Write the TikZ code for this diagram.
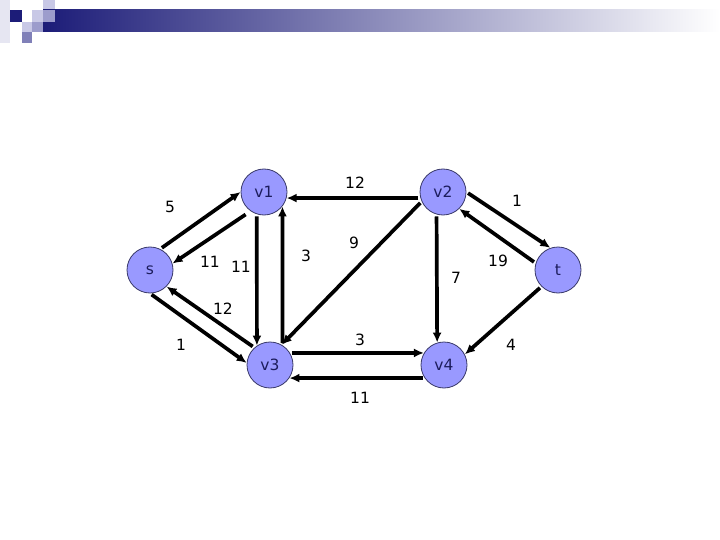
\documentclass[tikz,border=0pt]{standalone}
\usepackage{fontspec}
\setmainfont{DejaVu Sans}
\usetikzlibrary{arrows.meta}
\definecolor{vfill}{HTML}{9999FF}
\definecolor{vline}{HTML}{3A3A6A}
\definecolor{vink}{HTML}{1C1C5C}
\definecolor{barnavy}{HTML}{1C1C78}
\definecolor{hdpale}{HTML}{E6E6F2}
\definecolor{hdlight}{HTML}{C8C8E6}
\definecolor{hdmid}{HTML}{9C9CCC}
\definecolor{hddark}{HTML}{8080B8}
\tikzset{>={Latex[length=10pt,width=9pt]},
  vertex/.style={circle,fill=vfill,draw=vline,line width=.8pt,minimum size=46pt,
    inner sep=0pt,text=vink,font=\fontsize{15.5}{17}\selectfont},
  flow/.style={->,line width=3.7pt,shorten <=2pt},
  weight/.style={font=\fontsize{15.5}{17}\selectfont}}

\begin{document}
\begin{tikzpicture}[x=1pt,y=-1pt]
\path[use as bounding box] (0,0) rectangle (720,540);
% header
\fill[hdpale] (0,0) rectangle (10,43);
\fill[barnavy] (10,10) rectangle (22,22);
\fill[hdlight] (32,10) rectangle (43,22);
\fill[hdlight] (43,0) rectangle (55,10);
\shade[left color=barnavy,right color=white] (43,10) rectangle (720,32);
\fill[hdmid] (43,10) rectangle (55,22);
\fill[hdlight] (22,22) rectangle (32,32);
\fill[hdmid] (32,22) rectangle (43,32);
\fill[hddark] (22,32) rectangle (32,43);
% vertices
\node[vertex] (s) at (150,270) {s};
\node[vertex] (v1) at (264,192) {v1};
\node[vertex] (v2) at (443,192) {v2};
\node[vertex] (t) at (558,270) {t};
\node[vertex] (v3) at (270,365) {v3};
\node[vertex] (v4) at (444,365) {v4};
% edges
\draw[flow] (s.64) -- (v1.180);
\draw[flow,shorten <=6pt] (v1.235) -- (s.16);
\draw[flow] (s.270) -- (v3.175);
\draw[flow] (v3.132) -- (s.315);
\draw[flow] (v1.252) -- (v3.124);
\draw[flow] (v3.58) -- (v1.322);
\draw[flow] (v2.195) -- (v1.345);
\draw[flow] (v2.204) -- (v3.60);
\draw[flow] (v2.254) -- (v4.107);
\draw[flow] (v2.0) -- (t.109);
\draw[flow] (t.163) -- (v2.314);
\draw[flow] (t.225) -- (v4.27);
\draw[flow] (v3.31) -- (v4.149);
\draw[flow] (v4.214) -- (v3.326);
% capacities
\node[weight] (c-sv1) at (170,207) {5};
\node[weight] (c-v1s) at (210,262) {11};
\node[weight] (c-v1v3) at (241,267) {11};
\node[weight] (c-v3v1) at (306,256) {3};
\node[weight] (c-v2v1) at (355,183) {12};
\node[weight] (c-v2v3) at (354,243) {9};
\node[weight] (c-v2v4) at (456,278) {7};
\node[weight] (c-v2t) at (517,201) {1};
\node[weight] (c-tv2) at (498,261) {19};
\node[weight] (c-v3s) at (223,309) {12};
\node[weight] (c-sv3) at (181,345) {1};
\node[weight] (c-v3v4) at (360,340) {3};
\node[weight] (c-tv4) at (511,345) {4};
\node[weight] (c-v4v3) at (360,398) {11};
\end{tikzpicture}
\end{document}
